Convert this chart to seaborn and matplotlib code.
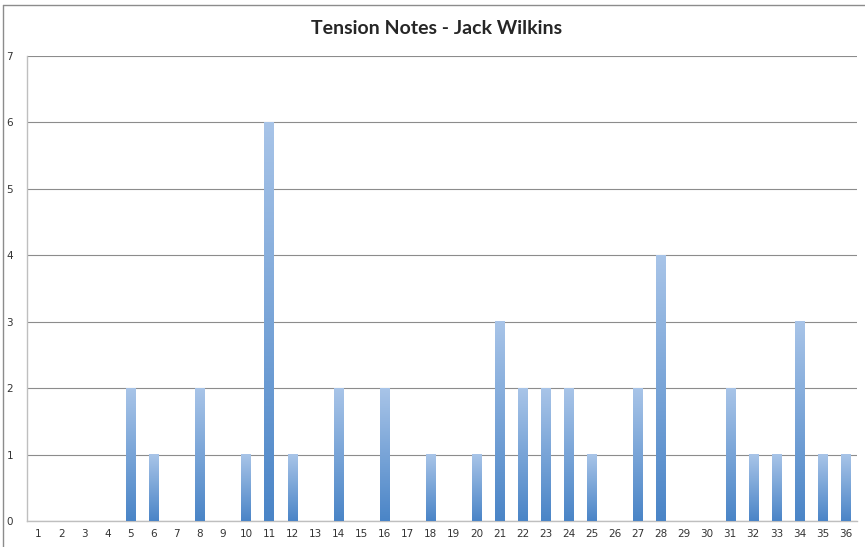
import matplotlib
matplotlib.use("Agg")
import matplotlib.pyplot as plt
from matplotlib.lines import Line2D
import numpy as np
import pandas as pd
import seaborn as sns

# Count of tension notes per bar/measure
measures = [str(i) for i in range(1, 37)]
counts = [0, 0, 0, 0, 2, 1, 0, 2, 0, 1,
          6, 1, 0, 2, 0, 2, 0, 1, 0, 1,
          3, 2, 2, 2, 1, 0, 2, 4, 0, 0,
          2, 1, 1, 3, 1, 1]
y_ticks = [0, 1, 2, 3, 4, 5, 6, 7]
title = "Tension Notes - Jack Wilkins"

df = pd.DataFrame({"measure": measures, "count": counts})

sns.set_style("white")
plt.rcParams["font.family"] = ["DejaVu Sans"]

fig = plt.figure(figsize=(8.65, 5.47), dpi=100)
ax = fig.add_axes([27 / 865, 26 / 547, 830 / 865, 465 / 547])

sns.barplot(data=df, x="measure", y="count", ax=ax, width=0.4,
            color="#5B8FCF", saturation=1)

# Replace flat fills with a vertical light-to-dark gradient on every bar
top_rgb = np.array([0.66, 0.77, 0.91])
bot_rgb = np.array([0.29, 0.52, 0.78])
t = np.linspace(0, 1, 256)[:, None]
grad = (top_rgb * (1 - t) + bot_rgb * t)[:, None, :]
for patch in ax.patches:
    x0, y0 = patch.get_x(), patch.get_y()
    w, h = patch.get_width(), patch.get_height()
    patch.set_facecolor("none")
    patch.set_edgecolor("none")
    if h <= 0:
        continue
    ax.imshow(grad, extent=(x0, x0 + w, y0, y0 + h), aspect="auto",
              origin="upper", zorder=3, interpolation="bilinear")

ax.set_xlim(-0.5, len(measures) - 0.5)
ax.set_ylim(0, 7)
ax.set_yticks(y_ticks)
ax.yaxis.grid(True, color="#8C8C8C", linewidth=0.8)
ax.set_axisbelow(True)

ax.set_xlabel("")
ax.set_ylabel("")
for s in ["top", "right"]:
    ax.spines[s].set_visible(False)
for s in ["left", "bottom"]:
    ax.spines[s].set_color("#BFBFBF")
    ax.spines[s].set_linewidth(1.0)

# category boundary ticks on x, labels centered under categories
ax.set_xticks(np.arange(-0.5, len(measures), 1.0), minor=True)
ax.tick_params(axis="x", which="major", length=0, labelsize=7.5,
               labelcolor="#333333", pad=6)
ax.tick_params(axis="x", which="minor", length=4, color="#BFBFBF", width=1)
ax.tick_params(axis="y", which="major", length=4, color="#BFBFBF", width=1,
               labelsize=7.5, labelcolor="#333333", pad=6)

fig.text(437 / 865, 1 - 28 / 547, title, ha="center", va="center",
         fontsize=14, fontweight="bold", family=["Lato", "DejaVu Sans"])

# outer chart frame
fig.add_artist(Line2D([3 / 865, 1.0], [1 - 5 / 547, 1 - 5 / 547],
                      transform=fig.transFigure, color="#8C8C8C", lw=1))
fig.add_artist(Line2D([3 / 865, 3 / 865], [0, 1 - 5 / 547],
                      transform=fig.transFigure, color="#8C8C8C", lw=1))

fig.savefig("out.png", dpi=100, facecolor="white")
